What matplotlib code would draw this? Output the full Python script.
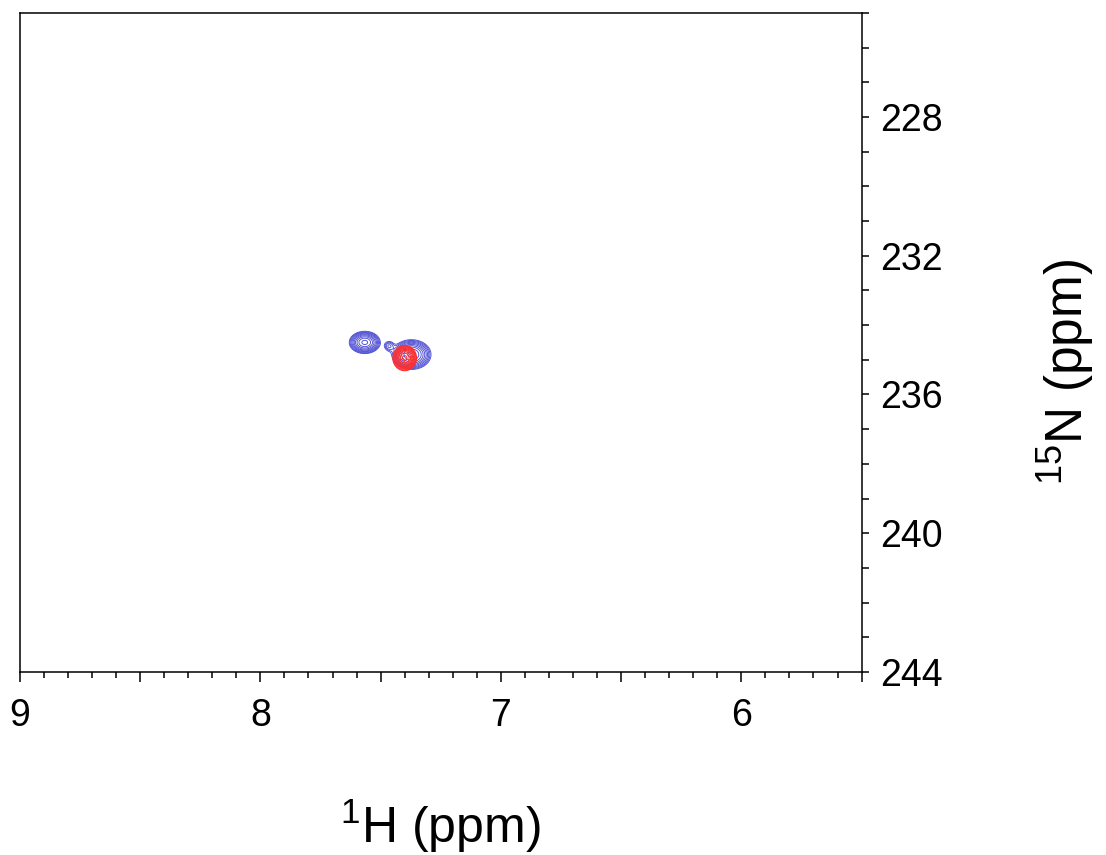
import numpy as np
import matplotlib
matplotlib.use('Agg')
import matplotlib.pyplot as plt
from matplotlib.ticker import MultipleLocator, FixedLocator

plt.rcParams['font.family'] = ['Liberation Sans', 'DejaVu Sans']
plt.rcParams['mathtext.fontset'] = 'custom'
plt.rcParams['mathtext.rm'] = 'Liberation Sans'
plt.rcParams['mathtext.default'] = 'regular'

# Peak list (1H ppm, 15N ppm, 1H width, 15N width, amplitude)
blue_h = [7.566, 7.372, 7.465]
blue_n = [234.5, 234.85, 234.6]
blue_wh = [0.03, 0.038, 0.014]
blue_wn = [0.15, 0.2, 0.1]
blue_amp = [1.0, 1.0, 0.2]

red_h = [7.40]
red_n = [234.95]
red_wh = [0.023]
red_wn = [0.17]
red_amp = [1.0]

x_ticks = [9, 8, 7, 6]
y_ticks = [228, 232, 236, 240, 244]


def spectrum(H, N, hs, ns, whs, wns, amps):
    # sum of gaussian peaks on the grid
    z = np.zeros_like(H)
    for h, n, wh, wn, a in zip(hs, ns, whs, wns, amps):
        z += a * np.exp(-((H - h) / wh) ** 2 / 2 - ((N - n) / wn) ** 2 / 2)
    return z


h = np.linspace(7.2, 7.8, 500)
n = np.linspace(233, 237, 500)
H, N = np.meshgrid(h, n)
z_blue = spectrum(H, N, blue_h, blue_n, blue_wh, blue_wn, blue_amp)
z_red = spectrum(H, N, red_h, red_n, red_wh, red_wn, red_amp)

fig = plt.figure(figsize=(11.06, 8.55), dpi=100)
ax = fig.add_axes([0.018, 0.214, 0.761, 0.771])

levels = 0.1 * 1.28 ** np.arange(10)
ax.contour(H, N, z_blue, levels=levels, colors='#4c4cd4', linewidths=0.65)
ax.contour(H, N, z_red, levels=levels, colors='#ff2e2e', linewidths=0.75)

ax.set_xlim(9, 5.5)
ax.set_ylim(244, 225)

ax.xaxis.set_major_locator(MultipleLocator(0.5))
ax.xaxis.set_minor_locator(MultipleLocator(0.1))
ax.set_xticklabels([str(int(t)) if t in x_ticks else '' for t in ax.get_xticks()])
ax.yaxis.tick_right()
ax.yaxis.set_label_position('right')
ax.yaxis.set_major_locator(FixedLocator(y_ticks))
ax.yaxis.set_minor_locator(MultipleLocator(1))
ax.set_yticklabels([str(t) for t in y_ticks])

ax.tick_params(axis='x', which='major', length=7, width=1.1, labelsize=27, pad=12, direction='out')
ax.tick_params(axis='x', which='minor', length=4, width=1.1, direction='out')
ax.tick_params(axis='y', which='both', length=5, width=1.1, labelsize=27, pad=8, direction='out')
for s in ax.spines.values():
    s.set_linewidth(1.1)

ax.set_xlabel('$^{1}$H (ppm)', fontsize=36)
ax.xaxis.set_label_coords(0.499, -0.234)
ax.xaxis.label.set_va('center')
ax.set_ylabel('$^{15}$N (ppm)', fontsize=37, rotation=90)
ax.yaxis.set_label_coords(1.243, 0.455)
ax.yaxis.label.set_va('center')
ax.yaxis.label.set_ha('center')

fig.savefig('out.png', dpi=100)
